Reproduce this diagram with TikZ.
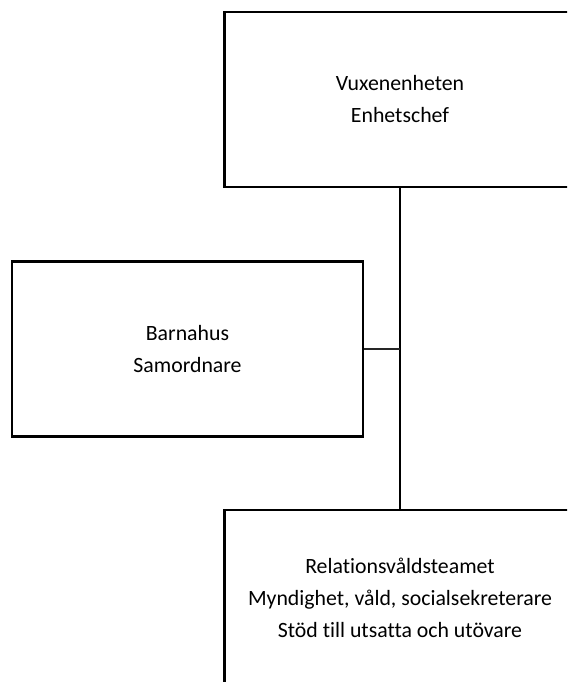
\documentclass[tikz,border=0pt]{standalone}
\usepackage{fontspec}
\setmainfont{Carlito}[Ligatures={NoCommon}]
\usetikzlibrary{positioning}

\begin{document}
\begin{tikzpicture}[x=1pt,y=-1pt,
    enhet/.style={draw,line width=2.2pt,minimum width=351pt,minimum height=175pt,
      align=center,font=\fontsize{21.8}{32}\selectfont},
    led/.style={line width=2.4pt},
    sido/.style={line width=1.6pt,draw=black!85}]%

\clip (0,0) rectangle (567,682);

% boxes
\node[enhet] (vux) at (400,99.5) {Vuxenenheten\\Enhetschef};
\node[enhet] (barn) at (187.5,349) {Barnahus\\Samordnare};
\node[enhet] (rel) at (400,597.5) {Relationsvåldsteamet\\Myndighet, våld, socialsekreterare\\Stöd till utsatta och utövare};

% lines
\coordinate (knut) at (vux.south |- barn.east);
\draw[led] (vux.south) -- (rel.north);
\draw[sido] (barn.east) -- (knut);

\end{tikzpicture}
\end{document}
